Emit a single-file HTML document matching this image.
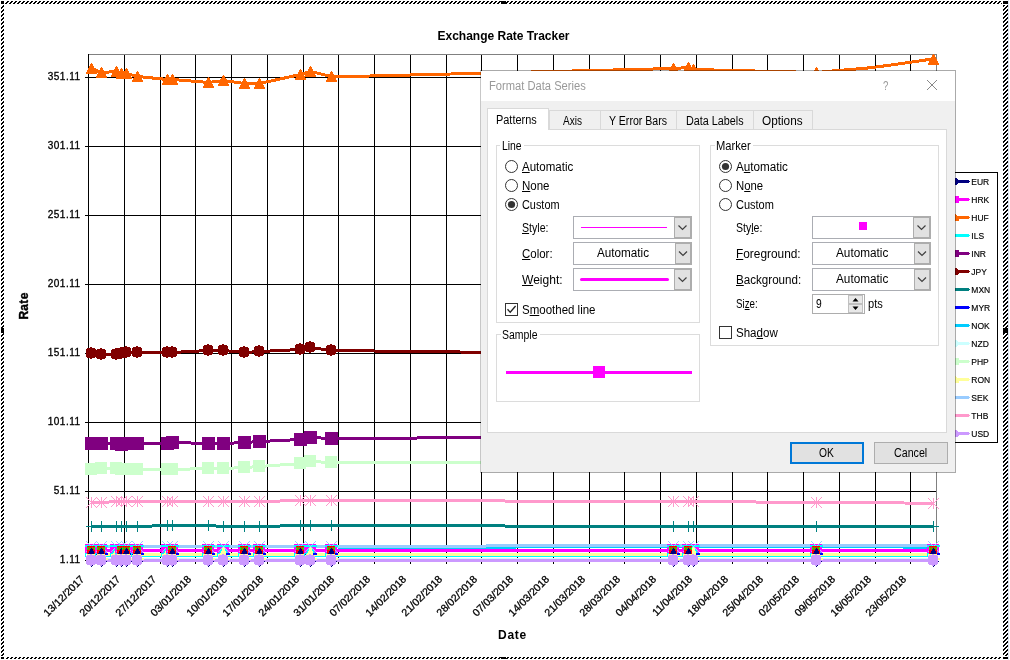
<!DOCTYPE html>
<html><head><meta charset="utf-8"><title>Exchange Rate Tracker</title>
<style>
html,body{margin:0;padding:0;background:#fff;}
body{width:1010px;height:660px;position:relative;overflow:hidden;font-family:"Liberation Sans",sans-serif;}
#chart{position:absolute;left:0;top:0;}
.tk{font:10px "Liberation Sans",sans-serif;fill:#000;stroke:#000;stroke-width:0.3px;letter-spacing:0.5px;}
.tx{font:10.5px "Liberation Sans",sans-serif;fill:#000;stroke:#000;stroke-width:0.3px;}
.tt{font:bold 12px "Liberation Sans",sans-serif;fill:#000;}
.lg{font:8.5px "Liberation Sans",sans-serif;fill:#000;stroke:#000;stroke-width:0.15px;}
#dlg{position:absolute;left:0;top:0;width:1010px;height:660px;font:12px "Liberation Sans",sans-serif;color:#000;}
#dlg .a{position:absolute;display:block;}
#dlg .t{position:absolute;display:block;white-space:nowrap;line-height:14px;transform-origin:0 0;}
#dlg u{text-decoration:underline;text-underline-offset:1px;}

</style></head>
<body>
<svg id="chart" width="1010" height="660" viewBox="0 0 1010 660">
<defs>
<pattern id="hz" width="4" height="4" patternUnits="userSpaceOnUse" shape-rendering="crispEdges"><rect x="0" y="0" width="1" height="1"/><rect x="1" y="0" width="1" height="1"/><rect x="0" y="1" width="1" height="1"/><rect x="3" y="1" width="1" height="1"/><rect x="2" y="2" width="1" height="1"/><rect x="3" y="2" width="1" height="1"/><rect x="1" y="3" width="1" height="1"/><rect x="2" y="3" width="1" height="1"/></pattern>
<g id="c11" shape-rendering="crispEdges"><rect x="-1" y="-6" width="2" height="1"/><rect x="-4" y="-5" width="8" height="1"/><rect x="-5" y="-4" width="10" height="1"/><rect x="-5" y="-3" width="10" height="1"/><rect x="-5" y="-2" width="10" height="1"/><rect x="-5" y="-1" width="10" height="1"/><rect x="-5" y="0" width="10" height="1"/><rect x="-5" y="1" width="10" height="1"/><rect x="-5" y="2" width="10" height="1"/><rect x="-5" y="3" width="10" height="1"/><rect x="-4" y="4" width="8" height="1"/><rect x="-1" y="5" width="2" height="1"/></g>
<g id="st" shape-rendering="crispEdges"><rect x="0" y="-5" width="1" height="11"/><rect x="-5" y="-5" width="1" height="1"/><rect x="-5" y="5" width="1" height="1"/><rect x="-4" y="-4" width="1" height="1"/><rect x="-4" y="4" width="1" height="1"/><rect x="-3" y="-3" width="1" height="1"/><rect x="-3" y="3" width="1" height="1"/><rect x="-2" y="-2" width="1" height="1"/><rect x="-2" y="2" width="1" height="1"/><rect x="-1" y="-1" width="1" height="1"/><rect x="-1" y="1" width="1" height="1"/><rect x="1" y="1" width="1" height="1"/><rect x="1" y="-1" width="1" height="1"/><rect x="2" y="2" width="1" height="1"/><rect x="2" y="-2" width="1" height="1"/><rect x="3" y="3" width="1" height="1"/><rect x="3" y="-3" width="1" height="1"/><rect x="4" y="4" width="1" height="1"/><rect x="4" y="-4" width="1" height="1"/><rect x="5" y="5" width="1" height="1"/><rect x="5" y="-5" width="1" height="1"/></g>
<g id="m0" shape-rendering="crispEdges">
<rect x="0" y="566" width="1" height="1" fill="#000080"/><rect x="1" y="565" width="1" height="1" fill="#000080"/><rect x="5" y="561" width="1" height="1" fill="#000080"/>
<rect x="-6" y="544" width="12" height="10" fill="#FF00FF"/>
<rect x="-6" y="545" width="13" height="2" fill="#00FFFF"/>
<rect x="-6" y="553" width="1" height="4" fill="#00FFFF"/>
<rect x="5" y="558" width="2" height="2" fill="#FFFF99"/>
<polygon points="0.5,546.5 5.5,556 -4.5,556" fill="#FFFF99"/><path d="M-1.5,549.5 L-4,554 M2.5,549.5 L5,554" stroke="#00FFFF" stroke-width="1.4" fill="none"/>
<rect x="3" y="553" width="4" height="2" fill="#0000FF"/>
<path d="M-5,541 L0.5,546.5 L6,541 M-5,552 L0.5,546.5 L6,552" fill="none" stroke="#99CCFF" stroke-width="1"/>
</g>
<g id="m1" shape-rendering="crispEdges">
<rect x="-4" y="546" width="8" height="8" fill="#FF0000"/>
<rect x="-4" y="547" width="8" height="3" fill="#00FF00"/>
<rect x="-3" y="547" width="1" height="1" fill="#FF0000"/><rect x="-2" y="548" width="1" height="1" fill="#FF0000"/><rect x="-1" y="547" width="1" height="1" fill="#FF0000"/>
<rect x="2" y="547" width="1" height="1" fill="#FF0000"/><rect x="1" y="548" width="1" height="1" fill="#FF0000"/><rect x="0" y="547" width="1" height="1" fill="#FF0000"/>
<rect x="-3" y="549" width="1" height="1" fill="#FF0000"/><rect x="2" y="549" width="1" height="1" fill="#FF0000"/>
<rect x="0" y="548" width="1" height="1" fill="#000080"/>
<rect x="-1" y="549" width="3" height="2" fill="#000080"/>
<rect x="-2" y="551" width="5" height="2" fill="#000080"/>
<rect x="-3" y="553" width="6" height="1" fill="#000080"/>
<rect x="-3" y="554" width="2" height="1" fill="#FFFF99"/><rect x="2" y="554" width="2" height="1" fill="#FFFF99"/>
</g>
<g id="m2" shape-rendering="crispEdges"><rect x="0" y="566" width="1" height="1" fill="#000080"/><rect x="1" y="565" width="1" height="1" fill="#000080"/><rect x="5" y="561" width="1" height="1" fill="#000080"/></g>
</defs>
<g id="sel" shape-rendering="crispEdges">
<rect x="1008" y="0" width="1" height="660" fill="#dde5f2"/>
<rect x="5" y="1" width="997" height="3" fill="url(#hz)"/>
<rect x="1" y="5" width="3" height="651" fill="url(#hz)"/>
<rect x="1003" y="5" width="5" height="651" fill="url(#hz)"/>
<rect x="5" y="657" width="997" height="2" fill="url(#hz)"/>
<rect x="1" y="1" width="3" height="3" fill="#000"/>
<rect x="1003" y="1" width="5" height="3" fill="#000"/>
<rect x="1" y="657" width="3" height="2" fill="#000"/>
<rect x="1003" y="657" width="5" height="2" fill="#000"/>
<rect x="501" y="1" width="5" height="3" fill="#000"/>
<rect x="501" y="657" width="5" height="2" fill="#000"/>
<rect x="1" y="328" width="3" height="5" fill="#000"/>
<rect x="1003" y="328" width="5" height="5" fill="#000"/>
</g>
<g shape-rendering="crispEdges">
<rect x="88" y="54" width="849" height="1" fill="#808080"/>
<rect x="936" y="54" width="1" height="507" fill="#808080"/>
<rect x="85" y="77" width="851" height="1" fill="#000"/>
<rect x="85" y="146" width="851" height="1" fill="#000"/>
<rect x="85" y="215" width="851" height="1" fill="#000"/>
<rect x="85" y="284" width="851" height="1" fill="#000"/>
<rect x="85" y="353" width="851" height="1" fill="#000"/>
<rect x="85" y="422" width="851" height="1" fill="#000"/>
<rect x="85" y="491" width="851" height="1" fill="#000"/>
<rect x="85" y="560" width="851" height="1" fill="#000"/>
<rect x="88" y="54" width="1" height="510" fill="#000"/>
<rect x="124" y="55" width="1" height="509" fill="#000"/>
<rect x="160" y="55" width="1" height="509" fill="#000"/>
<rect x="195" y="55" width="1" height="509" fill="#000"/>
<rect x="231" y="55" width="1" height="509" fill="#000"/>
<rect x="267" y="55" width="1" height="509" fill="#000"/>
<rect x="303" y="55" width="1" height="509" fill="#000"/>
<rect x="338" y="55" width="1" height="509" fill="#000"/>
<rect x="374" y="55" width="1" height="509" fill="#000"/>
<rect x="410" y="55" width="1" height="509" fill="#000"/>
<rect x="446" y="55" width="1" height="509" fill="#000"/>
<rect x="481" y="55" width="1" height="509" fill="#000"/>
<rect x="517" y="55" width="1" height="509" fill="#000"/>
<rect x="553" y="55" width="1" height="509" fill="#000"/>
<rect x="589" y="55" width="1" height="509" fill="#000"/>
<rect x="624" y="55" width="1" height="509" fill="#000"/>
<rect x="660" y="55" width="1" height="509" fill="#000"/>
<rect x="696" y="55" width="1" height="509" fill="#000"/>
<rect x="732" y="55" width="1" height="509" fill="#000"/>
<rect x="767" y="55" width="1" height="509" fill="#000"/>
<rect x="803" y="55" width="1" height="509" fill="#000"/>
<rect x="839" y="55" width="1" height="509" fill="#000"/>
<rect x="875" y="55" width="1" height="509" fill="#000"/>
<rect x="910" y="55" width="1" height="509" fill="#000"/>
<polyline points="91.5,560.5 933.5,560.5" fill="none" stroke="#000080" stroke-width="3"/>
<polyline points="91.5,550.5 933.5,550.5" fill="none" stroke="#FF00FF" stroke-width="3"/>
<polyline points="91.5,555.5 933.5,555.5" fill="none" stroke="#00FFFF" stroke-width="3"/>
<polyline points="91.5,546.5 331.5,546.5 345,547.5 508,547.5 524,546.5 900,546.5 906,547.5 933.5,547.5" fill="none" stroke="#00CCFF" stroke-width="3"/>
<polyline points="91.5,558.5 933.5,558.5" fill="none" stroke="#CCFFFF" stroke-width="1"/>
<polyline points="91.5,554.5 933.5,554.5" fill="none" stroke="#FFFF99" stroke-width="3"/>
<polyline points="91.5,546.5 331.5,546.5 643.5,545.5 933.5,545.5" fill="none" stroke="#99CCFF" stroke-width="3"/>
<polyline points="91.5,560.5 933.5,560.5" fill="none" stroke="#CC99FF" stroke-width="3"/>
<use href="#m0" x="91"/>
<use href="#m0" x="101"/>
<use href="#m0" x="116"/>
<use href="#m0" x="121"/>
<use href="#m0" x="126"/>
<use href="#m0" x="137"/>
<use href="#m0" x="167"/>
<use href="#m0" x="172"/>
<use href="#m0" x="208"/>
<use href="#m0" x="223"/>
<use href="#m0" x="244"/>
<use href="#m0" x="259"/>
<use href="#m0" x="300"/>
<use href="#m0" x="310"/>
<use href="#m0" x="331"/>
<use href="#m0" x="673"/>
<use href="#m0" x="688"/>
<use href="#m0" x="693"/>
<use href="#m0" x="816"/>
<use href="#m0" x="933"/>
<use href="#m1" x="91"/>
<use href="#m1" x="101"/>
<use href="#m1" x="121"/>
<use href="#m1" x="126"/>
<use href="#m1" x="137"/>
<use href="#m1" x="172"/>
<use href="#m1" x="208"/>
<use href="#m1" x="244"/>
<use href="#m1" x="259"/>
<use href="#m1" x="300"/>
<use href="#m1" x="331"/>
<use href="#m1" x="673"/>
<use href="#m1" x="688"/>
<use href="#m1" x="816"/>
<use href="#m1" x="933"/>
<use href="#c11" x="91" y="560" fill="#CC99FF"/><use href="#m2" x="91"/>
<use href="#c11" x="101" y="560" fill="#CC99FF"/><use href="#m2" x="101"/>
<use href="#c11" x="116" y="560" fill="#CC99FF"/><use href="#m2" x="116"/>
<use href="#c11" x="121" y="560" fill="#CC99FF"/><use href="#m2" x="121"/>
<use href="#c11" x="126" y="560" fill="#CC99FF"/><use href="#m2" x="126"/>
<use href="#c11" x="137" y="560" fill="#CC99FF"/><use href="#m2" x="137"/>
<use href="#c11" x="167" y="560" fill="#CC99FF"/><use href="#m2" x="167"/>
<use href="#c11" x="172" y="560" fill="#CC99FF"/><use href="#m2" x="172"/>
<use href="#c11" x="208" y="560" fill="#CC99FF"/><use href="#m2" x="208"/>
<use href="#c11" x="223" y="560" fill="#CC99FF"/><use href="#m2" x="223"/>
<use href="#c11" x="244" y="560" fill="#CC99FF"/><use href="#m2" x="244"/>
<use href="#c11" x="259" y="560" fill="#CC99FF"/><use href="#m2" x="259"/>
<use href="#c11" x="300" y="560" fill="#CC99FF"/><use href="#m2" x="300"/>
<use href="#c11" x="310" y="560" fill="#CC99FF"/><use href="#m2" x="310"/>
<use href="#c11" x="331" y="560" fill="#CC99FF"/><use href="#m2" x="331"/>
<use href="#c11" x="673" y="560" fill="#CC99FF"/><use href="#m2" x="673"/>
<use href="#c11" x="688" y="560" fill="#CC99FF"/><use href="#m2" x="688"/>
<use href="#c11" x="693" y="560" fill="#CC99FF"/><use href="#m2" x="693"/>
<use href="#c11" x="816" y="560" fill="#CC99FF"/><use href="#m2" x="816"/>
<use href="#c11" x="933" y="560" fill="#CC99FF"/><use href="#m2" x="933"/>
<polyline points="91.5,68.5 101.5,72.5 116.5,71.5 121.5,73.5 126.5,73.5 137.5,76.5 167.5,79.5 172.5,79.5 208.5,82.5 223.5,80.5 244.5,83.5 259.5,83.5 300.5,74.5 310.5,71.5 331.5,76.5 370,76 673.5,68.5 688.5,67.5 693.5,69.5 816.5,72.5 838,70.5 870,67.8 895,64.5 929,59.5 933.5,59.5" fill="none" stroke="#FF6600" stroke-width="3"/>
<polygon points="91.5,62.5 97.5,74 85.5,74" fill="#FF6600"/>
<polygon points="101.5,66.5 107.5,78 95.5,78" fill="#FF6600"/>
<polygon points="116.5,65.5 122.5,77 110.5,77" fill="#FF6600"/>
<polygon points="121.5,67.5 127.5,79 115.5,79" fill="#FF6600"/>
<polygon points="126.5,67.5 132.5,79 120.5,79" fill="#FF6600"/>
<polygon points="137.5,70.5 143.5,82 131.5,82" fill="#FF6600"/>
<polygon points="167.5,73.5 173.5,85 161.5,85" fill="#FF6600"/>
<polygon points="172.5,73.5 178.5,85 166.5,85" fill="#FF6600"/>
<polygon points="208.5,76.5 214.5,88 202.5,88" fill="#FF6600"/>
<polygon points="223.5,74.5 229.5,86 217.5,86" fill="#FF6600"/>
<polygon points="244.5,77.5 250.5,89 238.5,89" fill="#FF6600"/>
<polygon points="259.5,77.5 265.5,89 253.5,89" fill="#FF6600"/>
<polygon points="300.5,68.5 306.5,80 294.5,80" fill="#FF6600"/>
<polygon points="310.5,65.5 316.5,77 304.5,77" fill="#FF6600"/>
<polygon points="331.5,70.5 337.5,82 325.5,82" fill="#FF6600"/>
<polygon points="673.5,62.5 679.5,74 667.5,74" fill="#FF6600"/>
<polygon points="688.5,61.5 694.5,73 682.5,73" fill="#FF6600"/>
<polygon points="693.5,63.5 699.5,75 687.5,75" fill="#FF6600"/>
<polygon points="816.5,66.5 822.5,78 810.5,78" fill="#FF6600"/>
<polygon points="933.5,53.5 939.5,65 927.5,65" fill="#FF6600"/>
<polyline points="91.5,443.5 101.5,443.5 116.5,443.5 121.5,444.5 126.5,443.5 137.5,443.5 167.5,443.5 172.5,442.5 208.5,443.5 223.5,443.5 244.5,442.5 259.5,441.5 300.5,439.5 310.5,437.5 331.5,438.5 673.5,436.5 688.5,436.5 693.5,436.5 816.5,436.5 933.5,436.5" fill="none" stroke="#800080" stroke-width="3"/>
<rect x="85" y="437" width="13" height="13" fill="#800080"/>
<rect x="95" y="437" width="13" height="13" fill="#800080"/>
<rect x="110" y="437" width="13" height="13" fill="#800080"/>
<rect x="115" y="438" width="13" height="13" fill="#800080"/>
<rect x="120" y="437" width="13" height="13" fill="#800080"/>
<rect x="131" y="437" width="13" height="13" fill="#800080"/>
<rect x="161" y="437" width="13" height="13" fill="#800080"/>
<rect x="166" y="436" width="13" height="13" fill="#800080"/>
<rect x="202" y="437" width="13" height="13" fill="#800080"/>
<rect x="217" y="437" width="13" height="13" fill="#800080"/>
<rect x="238" y="436" width="13" height="13" fill="#800080"/>
<rect x="253" y="435" width="13" height="13" fill="#800080"/>
<rect x="294" y="433" width="13" height="13" fill="#800080"/>
<rect x="304" y="431" width="13" height="13" fill="#800080"/>
<rect x="325" y="432" width="13" height="13" fill="#800080"/>
<rect x="667" y="430" width="13" height="13" fill="#800080"/>
<rect x="682" y="430" width="13" height="13" fill="#800080"/>
<rect x="687" y="430" width="13" height="13" fill="#800080"/>
<rect x="810" y="430" width="13" height="13" fill="#800080"/>
<rect x="927" y="430" width="13" height="13" fill="#800080"/>
<polyline points="91.5,353.5 101.5,354.5 116.5,354.5 121.5,353.5 126.5,352.5 137.5,352.5 167.5,352.5 172.5,352.5 208.5,350.5 223.5,350.5 244.5,352.5 259.5,351.5 300.5,349.5 310.5,347.5 331.5,350.5 673.5,354.5 688.5,354.5 693.5,354.5 816.5,354.5 933.5,354.5" fill="none" stroke="#800000" stroke-width="3"/>
<use href="#c11" x="91" y="353" fill="#800000"/>
<use href="#c11" x="101" y="354" fill="#800000"/>
<use href="#c11" x="116" y="354" fill="#800000"/>
<use href="#c11" x="121" y="353" fill="#800000"/>
<use href="#c11" x="126" y="352" fill="#800000"/>
<use href="#c11" x="137" y="352" fill="#800000"/>
<use href="#c11" x="167" y="352" fill="#800000"/>
<use href="#c11" x="172" y="352" fill="#800000"/>
<use href="#c11" x="208" y="350" fill="#800000"/>
<use href="#c11" x="223" y="350" fill="#800000"/>
<use href="#c11" x="244" y="352" fill="#800000"/>
<use href="#c11" x="259" y="351" fill="#800000"/>
<use href="#c11" x="300" y="349" fill="#800000"/>
<use href="#c11" x="310" y="347" fill="#800000"/>
<use href="#c11" x="331" y="350" fill="#800000"/>
<use href="#c11" x="673" y="354" fill="#800000"/>
<use href="#c11" x="688" y="354" fill="#800000"/>
<use href="#c11" x="693" y="354" fill="#800000"/>
<use href="#c11" x="816" y="354" fill="#800000"/>
<use href="#c11" x="933" y="354" fill="#800000"/>
<polyline points="91.5,526.5 101.5,526.5 116.5,526.5 121.5,526.5 126.5,526.5 137.5,526.5 167.5,525.5 172.5,525.5 208.5,525.5 223.5,526.5 244.5,526.5 259.5,526.5 300.5,525.5 310.5,525.5 331.5,525.5 673.5,526.5 688.5,526.5 693.5,526.5 816.5,526.5 933.5,526.5" fill="none" stroke="#008080" stroke-width="3"/>
<rect x="91" y="521" width="1" height="11" fill="#008080"/><rect x="86" y="526" width="11" height="1" fill="#008080"/>
<rect x="101" y="521" width="1" height="11" fill="#008080"/><rect x="96" y="526" width="11" height="1" fill="#008080"/>
<rect x="116" y="521" width="1" height="11" fill="#008080"/><rect x="111" y="526" width="11" height="1" fill="#008080"/>
<rect x="121" y="521" width="1" height="11" fill="#008080"/><rect x="116" y="526" width="11" height="1" fill="#008080"/>
<rect x="126" y="521" width="1" height="11" fill="#008080"/><rect x="121" y="526" width="11" height="1" fill="#008080"/>
<rect x="137" y="521" width="1" height="11" fill="#008080"/><rect x="132" y="526" width="11" height="1" fill="#008080"/>
<rect x="167" y="520" width="1" height="11" fill="#008080"/><rect x="162" y="525" width="11" height="1" fill="#008080"/>
<rect x="172" y="520" width="1" height="11" fill="#008080"/><rect x="167" y="525" width="11" height="1" fill="#008080"/>
<rect x="208" y="520" width="1" height="11" fill="#008080"/><rect x="203" y="525" width="11" height="1" fill="#008080"/>
<rect x="223" y="521" width="1" height="11" fill="#008080"/><rect x="218" y="526" width="11" height="1" fill="#008080"/>
<rect x="244" y="521" width="1" height="11" fill="#008080"/><rect x="239" y="526" width="11" height="1" fill="#008080"/>
<rect x="259" y="521" width="1" height="11" fill="#008080"/><rect x="254" y="526" width="11" height="1" fill="#008080"/>
<rect x="300" y="520" width="1" height="11" fill="#008080"/><rect x="295" y="525" width="11" height="1" fill="#008080"/>
<rect x="310" y="520" width="1" height="11" fill="#008080"/><rect x="305" y="525" width="11" height="1" fill="#008080"/>
<rect x="331" y="520" width="1" height="11" fill="#008080"/><rect x="326" y="525" width="11" height="1" fill="#008080"/>
<rect x="673" y="521" width="1" height="11" fill="#008080"/><rect x="668" y="526" width="11" height="1" fill="#008080"/>
<rect x="688" y="521" width="1" height="11" fill="#008080"/><rect x="683" y="526" width="11" height="1" fill="#008080"/>
<rect x="693" y="521" width="1" height="11" fill="#008080"/><rect x="688" y="526" width="11" height="1" fill="#008080"/>
<rect x="816" y="521" width="1" height="11" fill="#008080"/><rect x="811" y="526" width="11" height="1" fill="#008080"/>
<rect x="933" y="521" width="1" height="11" fill="#008080"/><rect x="928" y="526" width="11" height="1" fill="#008080"/>
<polyline points="91.5,469.5 101.5,468.5 116.5,468.5 121.5,469.5 126.5,469.5 137.5,469.5 167.5,469.5 172.5,469.5 208.5,468.5 223.5,468.5 244.5,467.5 259.5,466.5 300.5,463.5 310.5,461.5 331.5,462.5 673.5,462.5 688.5,462.5 693.5,462.5 816.5,462.5 933.5,462.5" fill="none" stroke="#CCFFCC" stroke-width="3"/>
<rect x="85" y="463" width="12" height="12" fill="#CCFFCC"/>
<rect x="95" y="462" width="12" height="12" fill="#CCFFCC"/>
<rect x="110" y="462" width="12" height="12" fill="#CCFFCC"/>
<rect x="115" y="463" width="12" height="12" fill="#CCFFCC"/>
<rect x="120" y="463" width="12" height="12" fill="#CCFFCC"/>
<rect x="131" y="463" width="12" height="12" fill="#CCFFCC"/>
<rect x="161" y="463" width="12" height="12" fill="#CCFFCC"/>
<rect x="166" y="463" width="12" height="12" fill="#CCFFCC"/>
<rect x="202" y="462" width="12" height="12" fill="#CCFFCC"/>
<rect x="217" y="462" width="12" height="12" fill="#CCFFCC"/>
<rect x="238" y="461" width="12" height="12" fill="#CCFFCC"/>
<rect x="253" y="460" width="12" height="12" fill="#CCFFCC"/>
<rect x="294" y="457" width="12" height="12" fill="#CCFFCC"/>
<rect x="304" y="455" width="12" height="12" fill="#CCFFCC"/>
<rect x="325" y="456" width="12" height="12" fill="#CCFFCC"/>
<rect x="667" y="456" width="12" height="12" fill="#CCFFCC"/>
<rect x="682" y="456" width="12" height="12" fill="#CCFFCC"/>
<rect x="687" y="456" width="12" height="12" fill="#CCFFCC"/>
<rect x="810" y="456" width="12" height="12" fill="#CCFFCC"/>
<rect x="927" y="456" width="12" height="12" fill="#CCFFCC"/>
<polyline points="91.5,502.5 101.5,502.5 116.5,501.5 121.5,501.5 126.5,501.5 137.5,501.5 167.5,501.5 172.5,501.5 208.5,501.5 223.5,501.5 244.5,501.5 259.5,501.5 300.5,500.5 310.5,500.5 331.5,500.5 673.5,501.5 688.5,501.5 693.5,501.5 816.5,502.5 875,502.5 933.5,503.5" fill="none" stroke="#FF99CC" stroke-width="3"/>
<use href="#st" x="91" y="502" fill="#FF99CC"/>
<use href="#st" x="101" y="502" fill="#FF99CC"/>
<use href="#st" x="116" y="501" fill="#FF99CC"/>
<use href="#st" x="121" y="501" fill="#FF99CC"/>
<use href="#st" x="126" y="501" fill="#FF99CC"/>
<use href="#st" x="137" y="501" fill="#FF99CC"/>
<use href="#st" x="167" y="501" fill="#FF99CC"/>
<use href="#st" x="172" y="501" fill="#FF99CC"/>
<use href="#st" x="208" y="501" fill="#FF99CC"/>
<use href="#st" x="223" y="501" fill="#FF99CC"/>
<use href="#st" x="244" y="501" fill="#FF99CC"/>
<use href="#st" x="259" y="501" fill="#FF99CC"/>
<use href="#st" x="300" y="500" fill="#FF99CC"/>
<use href="#st" x="310" y="500" fill="#FF99CC"/>
<use href="#st" x="331" y="500" fill="#FF99CC"/>
<use href="#st" x="673" y="501" fill="#FF99CC"/>
<use href="#st" x="688" y="501" fill="#FF99CC"/>
<use href="#st" x="693" y="501" fill="#FF99CC"/>
<use href="#st" x="816" y="502" fill="#FF99CC"/>
<use href="#st" x="933" y="503" fill="#FF99CC"/>
</g>
<g>
<text x="80.6" y="80.2" text-anchor="end" class="tk">351.11</text>
<text x="80.6" y="149.2" text-anchor="end" class="tk">301.11</text>
<text x="80.6" y="218.2" text-anchor="end" class="tk">251.11</text>
<text x="80.6" y="287.2" text-anchor="end" class="tk">201.11</text>
<text x="80.6" y="356.2" text-anchor="end" class="tk">151.11</text>
<text x="80.6" y="425.2" text-anchor="end" class="tk">101.11</text>
<text x="80.6" y="494.2" text-anchor="end" class="tk">51.11</text>
<text x="80.6" y="563.2" text-anchor="end" class="tk">1.11</text>
<text transform="translate(85,579.8) rotate(-45)" text-anchor="end" class="tx">13/12/2017</text>
<text transform="translate(121,579.8) rotate(-45)" text-anchor="end" class="tx">20/12/2017</text>
<text transform="translate(157,579.8) rotate(-45)" text-anchor="end" class="tx">27/12/2017</text>
<text transform="translate(192,579.8) rotate(-45)" text-anchor="end" class="tx">03/01/2018</text>
<text transform="translate(228,579.8) rotate(-45)" text-anchor="end" class="tx">10/01/2018</text>
<text transform="translate(264,579.8) rotate(-45)" text-anchor="end" class="tx">17/01/2018</text>
<text transform="translate(300,579.8) rotate(-45)" text-anchor="end" class="tx">24/01/2018</text>
<text transform="translate(335,579.8) rotate(-45)" text-anchor="end" class="tx">31/01/2018</text>
<text transform="translate(371,579.8) rotate(-45)" text-anchor="end" class="tx">07/02/2018</text>
<text transform="translate(407,579.8) rotate(-45)" text-anchor="end" class="tx">14/02/2018</text>
<text transform="translate(443,579.8) rotate(-45)" text-anchor="end" class="tx">21/02/2018</text>
<text transform="translate(478,579.8) rotate(-45)" text-anchor="end" class="tx">28/02/2018</text>
<text transform="translate(514,579.8) rotate(-45)" text-anchor="end" class="tx">07/03/2018</text>
<text transform="translate(550,579.8) rotate(-45)" text-anchor="end" class="tx">14/03/2018</text>
<text transform="translate(586,579.8) rotate(-45)" text-anchor="end" class="tx">21/03/2018</text>
<text transform="translate(621,579.8) rotate(-45)" text-anchor="end" class="tx">28/03/2018</text>
<text transform="translate(657,579.8) rotate(-45)" text-anchor="end" class="tx">04/04/2018</text>
<text transform="translate(693,579.8) rotate(-45)" text-anchor="end" class="tx">11/04/2018</text>
<text transform="translate(729,579.8) rotate(-45)" text-anchor="end" class="tx">18/04/2018</text>
<text transform="translate(764,579.8) rotate(-45)" text-anchor="end" class="tx">25/04/2018</text>
<text transform="translate(800,579.8) rotate(-45)" text-anchor="end" class="tx">02/05/2018</text>
<text transform="translate(836,579.8) rotate(-45)" text-anchor="end" class="tx">09/05/2018</text>
<text transform="translate(872,579.8) rotate(-45)" text-anchor="end" class="tx">16/05/2018</text>
<text transform="translate(907,579.8) rotate(-45)" text-anchor="end" class="tx">23/05/2018</text>
<text x="503.5" y="40" text-anchor="middle" class="tt">Exchange Rate Tracker</text>
<text x="512.5" y="639" text-anchor="middle" class="tt" style="letter-spacing:0.7px">Date</text>
<text transform="translate(28,306) rotate(-90)" text-anchor="middle" class="tt" style="stroke:#000;stroke-width:0.4px;letter-spacing:0.3px">Rate</text>
</g>
<g shape-rendering="crispEdges">
<rect x="940.5" y="172.5" width="57" height="270" fill="#fff" stroke="#000" stroke-width="1"/>
<rect x="944" y="180" width="25" height="3" fill="#000080"/><rect x="969" y="181" width="1" height="1" fill="#000080"/>
<polygon points="955.5,177.5 959.5,181.5 955.5,185.5 951.5,181.5" fill="#000080"/>
<text x="971.3" y="184.8" class="lg" shape-rendering="auto">EUR</text>
<rect x="944" y="198" width="25" height="3" fill="#FF00FF"/><rect x="969" y="199" width="1" height="1" fill="#FF00FF"/>
<rect x="952" y="196" width="7" height="7" fill="#FF00FF"/>
<text x="971.3" y="202.8" class="lg" shape-rendering="auto">HRK</text>
<rect x="944" y="216" width="25" height="3" fill="#FF6600"/><rect x="969" y="217" width="1" height="1" fill="#FF6600"/>
<polygon points="955.5,213.5 959.5,221.0 951.5,221.0" fill="#FF6600"/>
<text x="971.3" y="220.8" class="lg" shape-rendering="auto">HUF</text>
<rect x="944" y="234" width="25" height="3" fill="#00FFFF"/><rect x="969" y="235" width="1" height="1" fill="#00FFFF"/>
<text x="971.3" y="238.8" class="lg" shape-rendering="auto">ILS</text>
<rect x="944" y="252" width="25" height="3" fill="#800080"/><rect x="969" y="253" width="1" height="1" fill="#800080"/>
<rect x="952" y="250" width="7" height="7" fill="#800080"/>
<text x="971.3" y="256.8" class="lg" shape-rendering="auto">INR</text>
<rect x="944" y="270" width="25" height="3" fill="#800000"/><rect x="969" y="271" width="1" height="1" fill="#800000"/>
<circle cx="955.5" cy="271.5" r="3.5" fill="#800000"/>
<text x="971.3" y="274.8" class="lg" shape-rendering="auto">JPY</text>
<rect x="944" y="288" width="25" height="3" fill="#008080"/><rect x="969" y="289" width="1" height="1" fill="#008080"/>
<text x="971.3" y="292.8" class="lg" shape-rendering="auto">MXN</text>
<rect x="944" y="306" width="25" height="3" fill="#0000FF"/><rect x="969" y="307" width="1" height="1" fill="#0000FF"/>
<text x="971.3" y="310.8" class="lg" shape-rendering="auto">MYR</text>
<rect x="944" y="324" width="25" height="3" fill="#00CCFF"/><rect x="969" y="325" width="1" height="1" fill="#00CCFF"/>
<text x="971.3" y="328.8" class="lg" shape-rendering="auto">NOK</text>
<rect x="944" y="342" width="25" height="3" fill="#CCFFFF"/><rect x="969" y="343" width="1" height="1" fill="#CCFFFF"/>
<polygon points="955.5,339.5 959.5,343.5 955.5,347.5 951.5,343.5" fill="#CCFFFF"/>
<text x="971.3" y="346.8" class="lg" shape-rendering="auto">NZD</text>
<rect x="944" y="360" width="25" height="3" fill="#CCFFCC"/><rect x="969" y="361" width="1" height="1" fill="#CCFFCC"/>
<rect x="952" y="358" width="7" height="7" fill="#CCFFCC"/>
<text x="971.3" y="364.8" class="lg" shape-rendering="auto">PHP</text>
<rect x="944" y="378" width="25" height="3" fill="#FFFF99"/><rect x="969" y="379" width="1" height="1" fill="#FFFF99"/>
<polygon points="955.5,375.5 959.5,383.0 951.5,383.0" fill="#FFFF99"/>
<text x="971.3" y="382.8" class="lg" shape-rendering="auto">RON</text>
<rect x="944" y="396" width="25" height="3" fill="#99CCFF"/><rect x="969" y="397" width="1" height="1" fill="#99CCFF"/>
<text x="971.3" y="400.8" class="lg" shape-rendering="auto">SEK</text>
<rect x="944" y="414" width="25" height="3" fill="#FF99CC"/><rect x="969" y="415" width="1" height="1" fill="#FF99CC"/>
<text x="971.3" y="418.8" class="lg" shape-rendering="auto">THB</text>
<rect x="944" y="432" width="25" height="3" fill="#CC99FF"/><rect x="969" y="433" width="1" height="1" fill="#CC99FF"/>
<circle cx="955.5" cy="433.5" r="3.5" fill="#CC99FF"/>
<text x="971.3" y="436.8" class="lg" shape-rendering="auto">USD</text>
</g>
</svg>
<div id="dlg">
<div class="a" style="left:480px;top:70px;width:476px;height:403px;background:#f0f0f0;border:1px solid rgba(0,0,0,0.33);border-left-color:rgba(0,0,0,0.22);background-clip:padding-box;box-sizing:border-box;"></div>
<div class="a" style="left:481px;top:71px;width:474px;height:30px;background:#fff;"></div>
<span class="t" style="left:488.60px;top:78.84px;transform:scaleX(0.9305);color:#999;">Format Data Series</span>
<span class="t" style="left:883.40px;top:78.77px;transform:scaleX(0.7469);color:#999;font-size:13px;">?</span>
<svg class="a" style="left:926px;top:79px" width="12" height="12" viewBox="0 0 12 12"><path d="M1,1 L11,11 M11,1 L1,11" stroke="#888" stroke-width="1" fill="none"/></svg>
<div class="a" style="left:487px;top:129px;width:460px;height:304px;background:#fff;border:1px solid #d9d9d9;box-sizing:border-box;"></div>
<div class="a" style="left:549px;top:110px;width:52px;height:20px;background:#f0f0f0;border:1px solid #d9d9d9;box-sizing:border-box;"></div>
<span class="t" style="left:563.30px;top:113.84px;transform:scaleX(0.8381);">Axis</span>
<div class="a" style="left:600px;top:110px;width:77px;height:20px;background:#f0f0f0;border:1px solid #d9d9d9;box-sizing:border-box;"></div>
<span class="t" style="left:608.60px;top:113.84px;transform:scaleX(0.8815);">Y Error Bars</span>
<div class="a" style="left:676px;top:110px;width:78px;height:20px;background:#f0f0f0;border:1px solid #d9d9d9;box-sizing:border-box;"></div>
<span class="t" style="left:685.80px;top:113.84px;transform:scaleX(0.8994);">Data Labels</span>
<div class="a" style="left:753px;top:110px;width:60px;height:20px;background:#f0f0f0;border:1px solid #d9d9d9;box-sizing:border-box;"></div>
<span class="t" style="left:761.80px;top:113.84px;transform:scaleX(0.9818);">Options</span>
<div class="a" style="left:487px;top:108px;width:62px;height:22px;background:#fff;border:1px solid #d9d9d9;border-bottom:none;box-sizing:border-box;"></div>
<span class="t" style="left:495.60px;top:112.84px;transform:scaleX(0.9107);">Patterns</span>
<div class="a" style="left:496px;top:145px;width:204px;height:178px;border:1px solid #dcdcdc;box-sizing:border-box;"></div>
<div class="a" style="left:500.4px;top:145px;width:23.600000000000023px;height:1px;background:#fff;"></div>
<span class="t" style="left:501.50px;top:138.84px;transform:scaleX(0.8640);">Line</span>
<div class="a" style="left:496px;top:334px;width:204px;height:68px;border:1px solid #dcdcdc;box-sizing:border-box;"></div>
<div class="a" style="left:500.5px;top:334px;width:39.5px;height:1px;background:#fff;"></div>
<span class="t" style="left:501.60px;top:327.84px;transform:scaleX(0.8725);">Sample</span>
<div class="a" style="left:710px;top:145px;width:229px;height:201px;border:1px solid #dcdcdc;box-sizing:border-box;"></div>
<div class="a" style="left:714.5px;top:145px;width:38.700000000000045px;height:1px;background:#fff;"></div>
<span class="t" style="left:715.60px;top:138.84px;transform:scaleX(0.9294);">Marker</span>
<svg class="a" style="left:505.0px;top:160.0px" width="13" height="13" viewBox="0 0 13 13"><circle cx="6.5" cy="6.5" r="6" fill="#fff" stroke="#333" stroke-width="1"/></svg>
<span class="t" style="left:521.60px;top:159.84px;transform:scaleX(0.9596);"><u>A</u>utomatic</span>
<svg class="a" style="left:505.0px;top:179.0px" width="13" height="13" viewBox="0 0 13 13"><circle cx="6.5" cy="6.5" r="6" fill="#fff" stroke="#333" stroke-width="1"/></svg>
<span class="t" style="left:521.60px;top:178.84px;transform:scaleX(0.9587);"><u>N</u>one</span>
<svg class="a" style="left:505.0px;top:198.0px" width="13" height="13" viewBox="0 0 13 13"><circle cx="6.5" cy="6.5" r="6" fill="#fff" stroke="#333" stroke-width="1"/><circle cx="6.5" cy="6.5" r="3.6" fill="#333"/></svg>
<span class="t" style="left:522.10px;top:197.84px;transform:scaleX(0.9070);">Custom</span>
<span class="t" style="left:522.10px;top:220.84px;transform:scaleX(0.8830);"><u>S</u>tyle:</span>
<span class="t" style="left:522.10px;top:246.84px;transform:scaleX(0.9560);"><u>C</u>olor:</span>
<span class="t" style="left:522.10px;top:272.84px;transform:scaleX(1.0034);"><u>W</u>eight:</span>
<div class="a" style="left:573px;top:216px;width:119px;height:23px;background:#fff;border:1px solid #abadb3;box-sizing:border-box;"></div>
<svg class="a" style="left:674px;top:216px" width="18" height="23" viewBox="0 0 18 23" shape-rendering="crispEdges"><rect x="0" y="0" width="18" height="23" fill="#adadad"/><rect x="1" y="2" width="15" height="19" fill="#e1e1e1"/><path d="M4.5,9.5 L8.5,13.5 L12.5,9.5" fill="none" stroke="#404040" stroke-width="1.2" shape-rendering="auto"/></svg>
<div class="a" style="left:581px;top:227px;width:86px;height:1px;background:#ff00ff;"></div>
<div class="a" style="left:573px;top:242px;width:119px;height:23px;background:#fff;border:1px solid #abadb3;box-sizing:border-box;"></div>
<svg class="a" style="left:675px;top:242px" width="17" height="23" viewBox="0 0 17 23" shape-rendering="crispEdges"><rect x="0" y="0" width="17" height="23" fill="#adadad"/><rect x="1" y="2" width="14" height="19" fill="#e1e1e1"/><path d="M4.0,9.5 L8.0,13.5 L12.0,9.5" fill="none" stroke="#404040" stroke-width="1.2" shape-rendering="auto"/></svg>
<span class="t" style="left:597.10px;top:246.14px;transform:scaleX(0.9746);">Automatic</span>
<div class="a" style="left:573px;top:268px;width:119px;height:23px;background:#fff;border:1px solid #abadb3;box-sizing:border-box;"></div>
<svg class="a" style="left:674px;top:268px" width="18" height="23" viewBox="0 0 18 23" shape-rendering="crispEdges"><rect x="0" y="0" width="18" height="23" fill="#adadad"/><rect x="1" y="2" width="15" height="19" fill="#e1e1e1"/><path d="M4.5,9.5 L8.5,13.5 L12.5,9.5" fill="none" stroke="#404040" stroke-width="1.2" shape-rendering="auto"/></svg>
<div class="a" style="left:580px;top:278px;width:89px;height:3px;background:#ff00ff;border-radius:1.5px;"></div>
<svg class="a" style="left:505px;top:303px" width="13" height="13" viewBox="0 0 13 13"><rect x="0.5" y="0.5" width="12" height="12" fill="#fff" stroke="#333" stroke-width="1"/><path d="M2.5,6.3 L5.2,9.2 L10.6,3" fill="none" stroke="#222" stroke-width="1.3"/></svg>
<span class="t" style="left:522.10px;top:302.84px;transform:scaleX(0.9581);">S<u>m</u>oothed line</span>
<div class="a" style="left:506px;top:371px;width:186px;height:3px;background:#ff00ff;"></div>
<div class="a" style="left:593px;top:366px;width:12px;height:12px;background:#ff00ff;"></div>
<svg class="a" style="left:719.0px;top:160.0px" width="13" height="13" viewBox="0 0 13 13"><circle cx="6.5" cy="6.5" r="6" fill="#fff" stroke="#333" stroke-width="1"/><circle cx="6.5" cy="6.5" r="3.6" fill="#333"/></svg>
<span class="t" style="left:735.70px;top:159.84px;transform:scaleX(0.9727);">A<u>u</u>tomatic</span>
<svg class="a" style="left:719.0px;top:179.0px" width="13" height="13" viewBox="0 0 13 13"><circle cx="6.5" cy="6.5" r="6" fill="#fff" stroke="#333" stroke-width="1"/></svg>
<span class="t" style="left:735.70px;top:178.84px;transform:scaleX(0.9447);">N<u>o</u>ne</span>
<svg class="a" style="left:719.0px;top:198.0px" width="13" height="13" viewBox="0 0 13 13"><circle cx="6.5" cy="6.5" r="6" fill="#fff" stroke="#333" stroke-width="1"/></svg>
<span class="t" style="left:735.70px;top:197.84px;transform:scaleX(0.9167);">Custom</span>
<span class="t" style="left:736.40px;top:220.84px;transform:scaleX(0.8796);">Sty<u>l</u>e:</span>
<span class="t" style="left:736.40px;top:246.84px;transform:scaleX(0.9882);"><u>F</u>oreground:</span>
<span class="t" style="left:736.40px;top:272.84px;transform:scaleX(0.9677);"><u>B</u>ackground:</span>
<span class="t" style="left:736.40px;top:296.84px;transform:scaleX(0.8134);">Si<u>z</u>e:</span>
<div class="a" style="left:812px;top:216px;width:119px;height:23px;background:#fff;border:1px solid #abadb3;box-sizing:border-box;"></div>
<svg class="a" style="left:913px;top:216px" width="18" height="23" viewBox="0 0 18 23" shape-rendering="crispEdges"><rect x="0" y="0" width="18" height="23" fill="#adadad"/><rect x="1" y="2" width="15" height="19" fill="#e1e1e1"/><path d="M4.5,9.5 L8.5,13.5 L12.5,9.5" fill="none" stroke="#404040" stroke-width="1.2" shape-rendering="auto"/></svg>
<div class="a" style="left:859px;top:222px;width:8px;height:8px;background:#ff00ff;"></div>
<div class="a" style="left:812px;top:242px;width:119px;height:23px;background:#fff;border:1px solid #abadb3;box-sizing:border-box;"></div>
<svg class="a" style="left:914px;top:242px" width="17" height="23" viewBox="0 0 17 23" shape-rendering="crispEdges"><rect x="0" y="0" width="17" height="23" fill="#adadad"/><rect x="1" y="2" width="14" height="19" fill="#e1e1e1"/><path d="M4.0,9.5 L8.0,13.5 L12.0,9.5" fill="none" stroke="#404040" stroke-width="1.2" shape-rendering="auto"/></svg>
<span class="t" style="left:836.10px;top:246.14px;transform:scaleX(0.9802);">Automatic</span>
<div class="a" style="left:812px;top:268px;width:119px;height:23px;background:#fff;border:1px solid #abadb3;box-sizing:border-box;"></div>
<svg class="a" style="left:914px;top:268px" width="17" height="23" viewBox="0 0 17 23" shape-rendering="crispEdges"><rect x="0" y="0" width="17" height="23" fill="#adadad"/><rect x="1" y="2" width="14" height="19" fill="#e1e1e1"/><path d="M4.0,9.5 L8.0,13.5 L12.0,9.5" fill="none" stroke="#404040" stroke-width="1.2" shape-rendering="auto"/></svg>
<span class="t" style="left:836.10px;top:272.14px;transform:scaleX(0.9802);">Automatic</span>
<div class="a" style="left:812px;top:294px;width:53px;height:20px;background:#fff;border:1px solid #adadad;box-sizing:border-box;"></div>
<span class="t" style="left:815.70px;top:296.84px;transform:scaleX(0.8541);">9</span>
<svg class="a" style="left:848px;top:295px" width="16" height="18" viewBox="0 0 16 18"><rect x="0.5" y="0.5" width="14" height="8" fill="#e8e8e8" stroke="#c0c0c0"/><rect x="0.5" y="9.5" width="14" height="8" fill="#e8e8e8" stroke="#c0c0c0"/><path d="M4.5,6.5 L7.5,3 L10.5,6.5 Z M4.5,11.5 L7.5,15 L10.5,11.5 Z" fill="#000"/></svg>
<span class="t" style="left:867.60px;top:296.84px;transform:scaleX(0.9245);">pts</span>
<svg class="a" style="left:719px;top:326px" width="13" height="13" viewBox="0 0 13 13"><rect x="0.5" y="0.5" width="12" height="12" fill="#fff" stroke="#333" stroke-width="1"/></svg>
<span class="t" style="left:735.70px;top:325.84px;transform:scaleX(0.9616);">Sha<u>d</u>ow</span>
<div class="a" style="left:790px;top:442px;width:74px;height:22px;background:#e1e1e1;border:2px solid #0078d7;box-sizing:border-box;"></div>
<span class="t" style="left:818.70px;top:445.84px;transform:scaleX(0.8536);">OK</span>
<div class="a" style="left:874px;top:442px;width:74px;height:22px;background:#e1e1e1;border:1px solid #adadad;box-sizing:border-box;"></div>
<span class="t" style="left:893.50px;top:445.84px;transform:scaleX(0.8889);">Cancel</span>
</div>
</body></html>
